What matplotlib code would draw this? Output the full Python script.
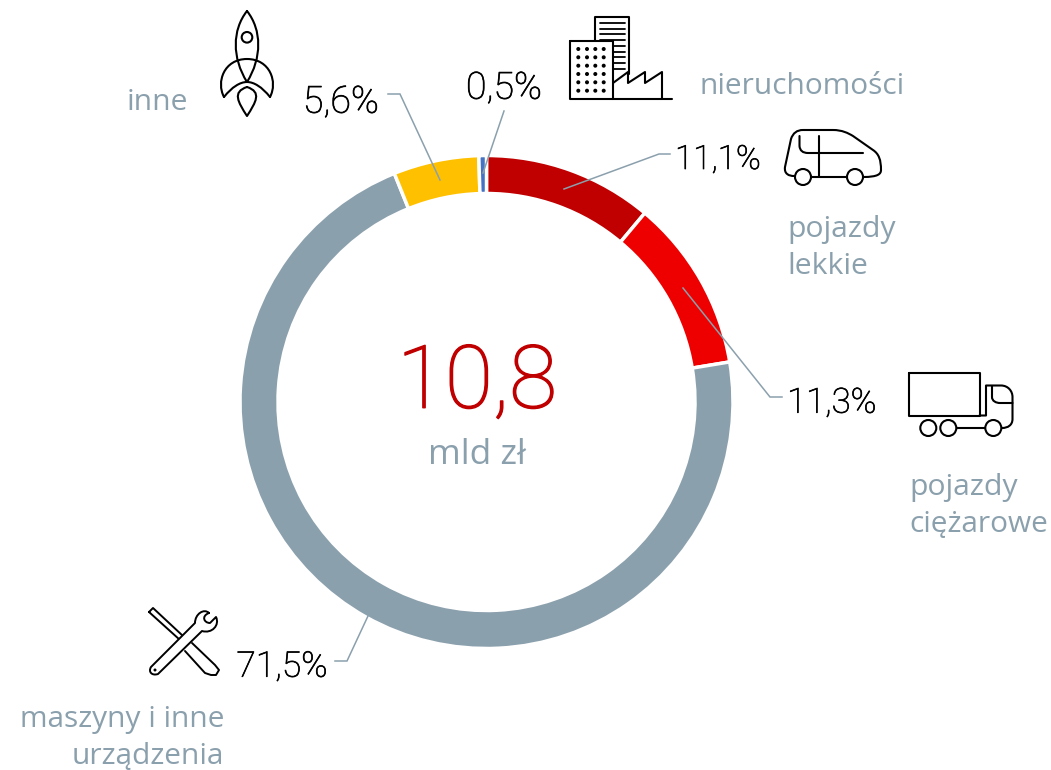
import matplotlib
matplotlib.use('Agg')
import matplotlib.pyplot as plt
import matplotlib.patheffects as pe
from matplotlib.patches import Circle, PathPatch
from matplotlib.path import Path

plt.rcParams['font.family'] = ['Open Sans', 'DejaVu Sans']

# data
shares = [11.1, 11.3, 71.5, 5.6, 0.5]
share_labels = ['11,1%', '11,3%', '71,5%', '5,6%', '0,5%']
colors = ['#c00000', '#ee0000', '#8ba0ad', '#ffc000', '#4472c4']
total_label = '10,8'
unit_label = 'mld zł'

GREY = '#8ba0ad'
H = 770

fig = plt.figure(figsize=(10.51, 7.7), dpi=100)
ax = fig.add_axes([0, 0, 1, 1])


def Y(py):
    return H - py


# donut
ax.pie(shares, colors=colors, startangle=90, counterclock=False,
       center=(486.5, Y(402)), radius=246.5, frame=False,
       wedgeprops=dict(width=38, edgecolor='white', linewidth=2.5))
ax.set_xlim(0, 1051)
ax.set_ylim(0, H)
ax.set_aspect('equal')
ax.axis('off')

# centre text
ax.text(477, Y(384), total_label, color='#c00000', fontsize=63, fontweight='light',
        family='Roboto', ha='center', va='center',
        path_effects=[pe.withStroke(linewidth=1.0, foreground='#c00000')])
ax.text(477, Y(455), unit_label, color=GREY, fontsize=25.5, ha='center', va='center')

# percent labels
pct_pos = [(718, 160), (832, 403), (282, 667), (341, 102), (504, 88)]
pct_size = [24, 25, 25.5, 27, 27]
for lab, (x, y), fs in zip(share_labels, pct_pos, pct_size):
    ax.text(x, Y(y), lab, color='#000000', fontsize=fs, fontweight='light',
            family='Roboto', ha='center', va='center',
            path_effects=[pe.withStroke(linewidth=0.5, foreground='#000000')])

# category labels
ax.text(157, Y(102), 'inne', color=GREY, fontsize=21.7, ha='center', va='center')
ax.text(699, Y(87), 'nieruchomości', color=GREY, fontsize=21.5, ha='left', va='center')
ax.text(787, Y(229), 'pojazdy', color=GREY, fontsize=21.7, ha='left', va='center')
ax.text(787, Y(267), 'lekkie', color=GREY, fontsize=21.7, ha='left', va='center')
ax.text(909, Y(487), 'pojazdy', color=GREY, fontsize=21.7, ha='left', va='center')
ax.text(909, Y(525), 'ciężarowe', color=GREY, fontsize=21.5, ha='left', va='center')
ax.text(224, Y(719), 'maszyny i inne', color=GREY, fontsize=21.5, ha='right', va='center')
ax.text(224, Y(757), 'urządzenia', color=GREY, fontsize=21.5, ha='right', va='center')

# leader lines
leaders = [
    [(388, 94), (400, 94), (440, 180)],
    [(504, 111), (483, 173)],
    [(670, 154), (659, 154), (564, 189)],
    [(782, 397), (770, 397), (683, 288)],
    [(335, 661), (347, 661), (368, 616)],
]
for pts in leaders:
    ax.plot([p[0] for p in pts], [Y(p[1]) for p in pts], color=GREY, lw=1.1,
            solid_joinstyle='miter', zorder=5)


# icon helpers, all in picture pixels
def stroke(verts, codes=None, lw=1.5, fill='none', z=6):
    v = [(x, Y(y)) for x, y in verts]
    ax.add_patch(PathPatch(Path(v, codes), fc=fill, ec='black', lw=lw, zorder=z,
                           capstyle='round', joinstyle='round'))


def ring(x, y, r, lw=1.5):
    ax.add_patch(Circle((x, Y(y)), r, fc='white', ec='black', lw=lw, zorder=7))


M, L, C = Path.MOVETO, Path.LINETO, Path.CURVE4

# rocket
stroke([(247, 11), (232, 30), (232, 58), (247, 82), (262, 58), (262, 30), (247, 11)],
       [M, C, C, C, C, C, C])
ring(247, 37.3, 5.3)
stroke([(224, 97), (216, 82), (224, 59), (247, 59), (270, 59), (278, 82), (270, 97)],
       [M, C, C, C, C, C, C])
stroke([(224, 97), (232, 87), (240, 82), (247, 82), (254, 82), (262, 87), (270, 97)],
       [M, C, C, C, C, C, C])
stroke([(247, 87), (232, 92), (238, 102), (247, 116), (256, 102), (262, 92), (247, 87)],
       [M, C, C, C, C, C, C])

# buildings
stroke([(595, 40), (595, 17), (629, 17), (629, 74)])
for yy in [23, 29, 34, 40, 46, 52, 57, 63, 69]:
    x0 = 600 if yy < 41 else 613
    stroke([(x0, yy), (625, yy)], lw=1.3)
stroke([(570, 41), (613, 41), (613, 99), (570, 99), (570, 41)])
for yy in [49, 57.3, 65.7, 74, 82.3, 90.7]:
    for xx in [578.3, 587, 595.3, 603.7]:
        ax.add_patch(Circle((xx, Y(yy)), 2, fc='black', ec='none', zorder=7))
stroke([(613, 83), (628, 72), (628, 83), (645, 72), (645, 83), (662, 72), (662, 99)])
stroke([(613, 99), (672, 99)])

# car
stroke([(794, 176), (789, 176), (784, 174), (785, 167), (791, 139), (793, 133), (797, 130), (803, 130),
        (833, 130), (842, 130), (848, 133), (853, 136), (873, 150), (879, 154), (881, 160), (881, 170),
        (881, 174), (878, 177), (863, 177)],
       [M, C, C, C, L, C, C, C, L, C, C, C, L, C, C, C, C, C, C])
stroke([(812, 177), (847, 177)])
ring(803, 177, 8)
ring(855, 177, 8)
stroke([(818.5, 136), (818.5, 177)])
stroke([(799.5, 136), (799.5, 146), (800, 153), (808, 153), (863, 153)], [M, L, Path.CURVE3, Path.CURVE3, L])

# truck
stroke([(908.5, 373), (979.5, 373), (979.5, 415.5), (908.5, 415.5), (908.5, 373)])
stroke([(979.5, 415.5), (986, 415.5), (986, 385.5), (1001, 385.5), (1008, 385.5), (1012.5, 391), (1012.5, 397),
        (1012.5, 419), (1012.5, 425), (1008, 428), (1002, 428)],
       [M, L, L, L, C, C, C, L, C, C, C])
stroke([(992, 386), (992, 397), (992, 401), (996, 403), (1000, 403), (1012.5, 403)],
       [M, L, C, C, C, L])
stroke([(957, 428), (985, 428)])
ring(928.3, 428, 8)
ring(948.3, 428, 8)
ring(993.3, 428, 8)

# screwdriver
stroke([(149, 612), (153, 608), (183, 636), (180, 640), (149, 612)], lw=1.4)
stroke([(192, 643), (215, 665), (219, 670), (216, 675), (211, 675), (205, 673), (185, 651)], lw=1.4)
# wrench
stroke([(209, 613), (204, 608), (195, 614), (195, 623),
        (151, 667), (148, 672), (152, 676), (158, 674),
        (202, 631), (212, 634), (220, 625), (216, 617),
        (210, 623), (204, 623), (201, 616), (209, 613)],
       [M, C, C, C, L, C, C, C, L, C, C, C, L, C, C, C], lw=1.4, fill='white', z=7)
ax.add_patch(Circle((155, Y(670)), 1.5, fc='black', ec='none', zorder=8))

fig.savefig('out.png', dpi=100, facecolor='white')
